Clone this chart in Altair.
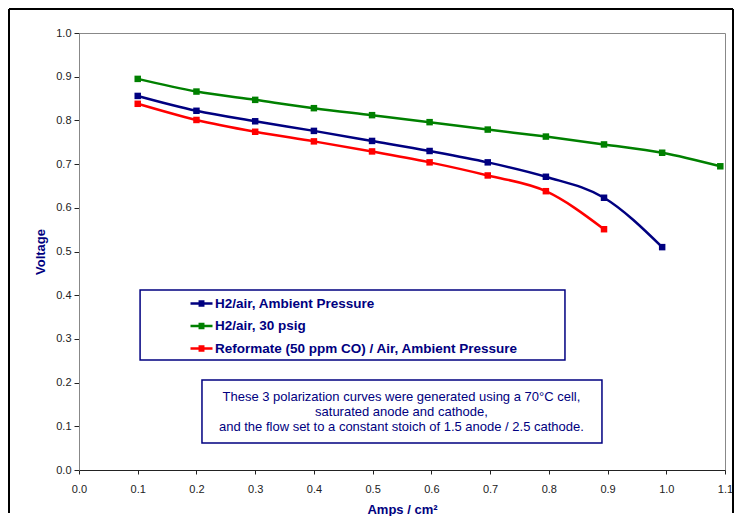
import altair as alt
import pandas as pd

# ---- data ----
current = [0.1, 0.2, 0.3, 0.4, 0.499, 0.597, 0.696, 0.795, 0.894, 0.993, 1.092]
v_ambient = [0.856, 0.822, 0.798, 0.776, 0.753, 0.730, 0.704, 0.671, 0.623, 0.510]
v_30psig = [0.895, 0.866, 0.847, 0.828, 0.812, 0.796, 0.779, 0.763, 0.745, 0.726, 0.695]
v_reformate = [0.838, 0.801, 0.774, 0.752, 0.729, 0.704, 0.674, 0.638, 0.551]
series_names = [
    "H2/air, Ambient Pressure",
    "H2/air, 30 psig",
    "Reformate (50 ppm CO) / Air, Ambient Pressure",
]
series_colors = ["#000080", "#008000", "#FF0000"]
x_ticks = [0.0, 0.1, 0.2, 0.3, 0.4, 0.5, 0.6, 0.7, 0.8, 0.9, 1.0, 1.1]
y_ticks = [0.0, 0.1, 0.2, 0.3, 0.4, 0.5, 0.6, 0.7, 0.8, 0.9, 1.0]
note_lines = [
    "These 3 polarization curves were generated using a 70°C cell,",
    "saturated anode and cathode,",
    "and the flow set to a constant stoich of 1.5 anode / 2.5 cathode.",
]

rows = []
for name, vals in zip(series_names, [v_ambient, v_30psig, v_reformate]):
    for i, v in enumerate(vals):
        rows.append({"series": name, "order": i, "amps": current[i], "volt": v})
df = pd.DataFrame(rows)

FONT = "Liberation Sans"
NAVY = "#000080"

color_scale = alt.Scale(domain=series_names, range=series_colors)

x_enc = alt.X(
    "amps:Q",
    scale=alt.Scale(domain=[0, 1.1], nice=False, zero=False),
    axis=alt.Axis(
        values=x_ticks, format=".1f", title="Amps / cm²",
        labelFontSize=11, labelColor="#222", labelFont=FONT, labelPadding=9,
        titleFontSize=13, titleFont=FONT, titleFontWeight="bold", titleColor=NAVY,
        titlePadding=9, tickSize=4, tickColor="#222", domainColor="#222",
        gridColor="#999", labelFlush=False,
    ),
)
y_enc = alt.Y(
    "volt:Q",
    scale=alt.Scale(domain=[0, 1.0], nice=False, zero=False),
    axis=alt.Axis(
        values=y_ticks, format=".1f", title="Voltage",
        labelFontSize=11, labelColor="#222", labelFont=FONT, labelPadding=3,
        titleFontSize=13, titleFont=FONT, titleFontWeight="bold", titleColor=NAVY,
        titlePadding=8, tickSize=5, tickColor="#222", domainColor="#888",
        gridColor="#999", labelFlush=False,
    ),
)

legend_symbol = "M-1,0H1M-0.27,-0.18H0.27M-0.27,0.18H0.27"

lines = alt.Chart(df).mark_line(interpolate="monotone", strokeWidth=2.5).encode(
    x=x_enc,
    y=y_enc,
    order="order:Q",
    color=alt.Color(
        "series:N", scale=color_scale,
        legend=alt.Legend(
            title=None, orient="none", legendX=110, legendY=258,
            symbolType=legend_symbol, symbolSize=484, symbolStrokeWidth=2.5,
            labelFont=FONT, labelFontSize=13.5, labelFontWeight="bold",
            labelColor=NAVY, labelOffset=1, rowPadding=2.5, padding=0,
            labelLimit=600,
        ),
    ),
)

points = alt.Chart(df).mark_square(size=42, opacity=1).encode(
    x="amps:Q",
    y="volt:Q",
    fill=alt.Fill("series:N", scale=color_scale, legend=None),
)

one = alt.Data(values=[{"k": 1}])

frame_style = dict(color="black", strokeWidth=2)
frame_top = alt.Chart(one).mark_rule(**frame_style).encode(
    x=alt.value(-70), x2=alt.value(654), y=alt.value(-24)
)
frame_left = alt.Chart(one).mark_rule(**frame_style).encode(
    x=alt.value(-70), y=alt.value(-24), y2=alt.value(480)
)
frame_right = alt.Chart(one).mark_rule(**frame_style).encode(
    x=alt.value(654), y=alt.value(-24), y2=alt.value(480)
)

legend_box = alt.Chart(one).mark_rect(fill="white", stroke=NAVY, strokeWidth=1.5).encode(
    x=alt.datum(0.104), x2=alt.datum(0.8275), y=alt.datum(0.412), y2=alt.datum(0.252)
)

note_box = alt.Chart(one).mark_rect(fill="white", stroke=NAVY, strokeWidth=1.5).encode(
    x=alt.datum(0.2094), x2=alt.datum(0.8905), y=alt.datum(0.206), y2=alt.datum(0.0618)
)

note_text = alt.Chart(one).mark_text(
    text=note_lines, align="center", baseline="middle", lineHeight=15,
    fontSize=13, font=FONT, color=NAVY,
).encode(x=alt.datum(0.549), y=alt.datum(0.167))

chart = alt.layer(
    frame_top, frame_left, frame_right, legend_box, note_box, note_text, lines, points
).properties(
    width=646, height=437, padding=0, background="white"
).configure_view(stroke="#888", strokeWidth=1)

chart.save("out.html", embed_options={"renderer": "svg", "actions": False})
